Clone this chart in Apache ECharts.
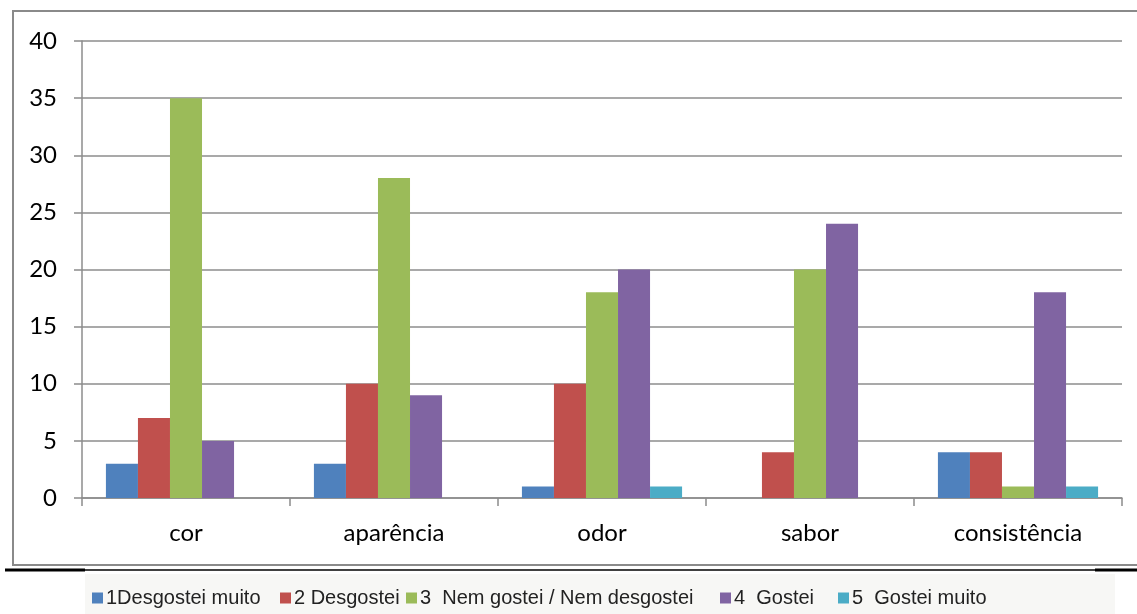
<!DOCTYPE html>
<html>
<head>
<meta charset="utf-8">
<script src="https://cdn.jsdelivr.net/npm/echarts@6/dist/echarts.min.js"></script>
<style>
  html, body { margin: 0; padding: 0; background: #ffffff; }
  #chart { width: 1137px; height: 614px; }
</style>
</head>
<body>
<div id="chart"></div>
<script>
// Sensory attributes evaluated (categories on the x axis)
const categories = ['cor', 'aparência', 'odor', 'sabor', 'consistência'];

// Hedonic scale labels (one series per scale point)
const seriesNames = [
  '1Desgostei muito',
  '2 Desgostei',
  '3  Nem gostei / Nem desgostei',
  '4  Gostei',
  '5  Gostei muito'
];

// Number of answers per attribute for each scale point
const desgosteiMuito = [3, 3, 1, 0, 4];
const desgostei      = [7, 10, 10, 4, 4];
const nemGostei      = [35, 28, 18, 20, 1];
const gostei         = [5, 9, 20, 24, 18];
const gosteiMuito    = [0, 0, 1, 0, 1];

// Value axis ticks
const yTicks = [0, 5, 10, 15, 20, 25, 30, 35, 40];

const seriesValues = [desgosteiMuito, desgostei, nemGostei, gostei, gosteiMuito];
const colors = ['#4F81BD', '#C0504D', '#9BBB59', '#8064A2', '#4BACC6'];
const legendLeft = [92, 280, 406, 720, 838];

const gridColor = '#8c8c8c';
const labelFont = 'Lato, Carlito, "Open Sans", sans-serif';
const legendFont = '"Liberation Sans", Arial, sans-serif';

const chart = echarts.init(document.getElementById('chart'), null, { renderer: 'canvas' });

const option = {
  backgroundColor: '#ffffff',
  animation: false,
  color: colors,
  grid: { left: 82, right: 15, top: 41, bottom: 116, containLabel: false },
  legend: seriesNames.map((name, i) => ({
    data: [name],
    left: legendLeft[i],
    top: 588,
    itemWidth: 11,
    itemHeight: 11,
    itemGap: 0,
    icon: 'rect',
    padding: 0,
    selectedMode: false,
    textStyle: { fontFamily: legendFont, fontSize: 20, color: '#222', padding: [0, 0, 0, -2] }
  })),
  xAxis: {
    type: 'category',
    data: categories,
    axisLine: { show: true, lineStyle: { color: gridColor, width: 1.5 } },
    axisTick: { show: true, length: 8, lineStyle: { color: gridColor, width: 1.5 } },
    axisLabel: { margin: 23, fontFamily: labelFont, fontSize: 24, color: '#000' },
    splitLine: { show: false }
  },
  yAxis: {
    type: 'value',
    min: yTicks[0],
    max: yTicks[yTicks.length - 1],
    interval: yTicks[1] - yTicks[0],
    axisLine: { show: true, lineStyle: { color: gridColor, width: 1.5 } },
    axisTick: { show: true, length: 8, lineStyle: { color: gridColor, width: 1.5 } },
    axisLabel: { margin: 25, fontFamily: labelFont, fontSize: 24, color: '#000' },
    splitLine: { show: true, lineStyle: { color: gridColor, width: 1.5 } }
  },
  series: seriesNames.map((name, i) => ({
    name: name,
    type: 'bar',
    data: seriesValues[i],
    barGap: '0%',
    barCategoryGap: '23%',
    itemStyle: { color: colors[i] }
  })),
  graphic: [
    // legend band background
    {
      type: 'rect', z: -1, silent: true,
      shape: { x: 85, y: 574, width: 1030, height: 40 },
      style: { fill: '#f7f7f5' }
    },
    // frame around the plot
    {
      type: 'rect', silent: true,
      shape: { x: 13, y: 11, width: 1140, height: 554 },
      style: { fill: 'none', stroke: '#8a8a8a', lineWidth: 2 }
    },
    // rule under the frame
    {
      type: 'line', silent: true,
      shape: { x1: 5, y1: 570, x2: 85, y2: 570 },
      style: { stroke: '#000', lineWidth: 3 }
    },
    {
      type: 'line', silent: true,
      shape: { x1: 85, y1: 570, x2: 1095, y2: 570 },
      style: { stroke: '#000', lineWidth: 1.5 }
    },
    {
      type: 'line', silent: true,
      shape: { x1: 1095, y1: 570, x2: 1137, y2: 570 },
      style: { stroke: '#000', lineWidth: 3 }
    }
  ]
};

chart.setOption(option);
</script>
</body>
</html>
